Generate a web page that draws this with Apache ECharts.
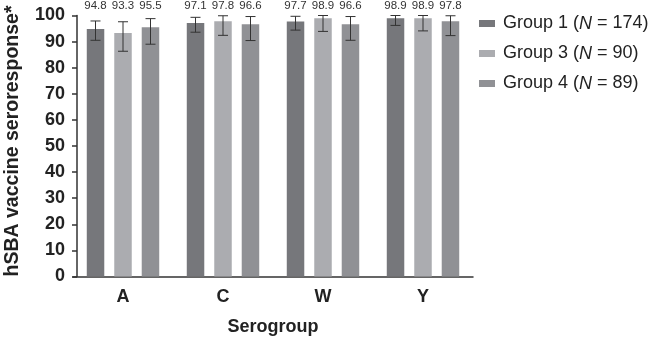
<!DOCTYPE html>
<html lang="en">
<head>
    <meta charset="utf-8" />
    <title>hSBA seroresponse</title>
    <style>
        html, body { margin: 0; width: 100%; height: 100%; background: #fff; }
        #main { width: 658px; height: 337px; }
    </style>
</head>
<body>
    <div id="main"></div>
    <script src="https://cdn.jsdelivr.net/npm/echarts@6/dist/echarts.min.js"></script>
    <script type="text/javascript">
        var serogroups = ['A', 'C', 'W', 'Y'];
        var groupNames = ['Group 1', 'Group 3', 'Group 4'];
        var groupN = [174, 90, 89];

        var group1 = [94.8, 97.1, 97.7, 98.9];
        var group3 = [93.3, 97.8, 98.9, 98.9];
        var group4 = [95.5, 96.6, 96.6, 97.8];

        // 95% CI, read from the whiskers
        var group1Low = [90.5, 93.6, 94.4, 96.2];
        var group1High = [97.9, 99.3, 99.7, 100];
        var group3Low = [86.3, 92.4, 93.9, 94.1];
        var group3High = [97.6, 99.9, 100, 100];
        var group4Low = [89.0, 90.4, 90.5, 92.3];
        var group4High = [98.8, 99.6, 99.6, 99.9];

        var yTicks = [0, 10, 20, 30, 40, 50, 60, 70, 80, 90, 100];

        var colors = ['#76777b', '#abacb0', '#909195'];
        var font = 'Liberation Sans, Arial, Helvetica, sans-serif';

        var values = [group1, group3, group4];
        var lows = [group1Low, group3Low, group4Low];
        var highs = [group1High, group3High, group4High];

        var chart = echarts.init(document.getElementById('main'));

        // error bars and value labels sit on the bar centres
        function errorSeries(k) {
            var data = serogroups.map(function (s, i) {
                return [i, lows[k][i], highs[k][i], values[k][i]];
            });
            return {
                type: 'custom',
                name: groupNames[k] + '_err',
                silent: true,
                z: 5,
                clip: false,
                data: data,
                renderItem: function (params, api) {
                    var band = api.size([1, 0])[0];
                    var off = (k - 1) * 0.275 * band;
                    var lo = api.coord([api.value(0), api.value(1)]);
                    var hi = api.coord([api.value(0), api.value(2)]);
                    var top = api.coord([api.value(0), 100]);
                    var x = lo[0] + off;
                    var cap = 5;
                    var st = { stroke: '#333', lineWidth: 1 };
                    return {
                        type: 'group',
                        children: [
                            { type: 'line', shape: { x1: x, y1: lo[1], x2: x, y2: hi[1] }, style: st },
                            { type: 'line', shape: { x1: x - cap, y1: lo[1], x2: x + cap, y2: lo[1] }, style: st },
                            { type: 'line', shape: { x1: x - cap, y1: hi[1], x2: x + cap, y2: hi[1] }, style: st },
                            {
                                type: 'text',
                                style: {
                                    x: x, y: top[1] - 9.5,
                                    text: api.value(3).toFixed(1),
                                    fill: '#333',
                                    font: '11.5px ' + font,
                                    align: 'center',
                                    verticalAlign: 'middle'
                                }
                            }
                        ]
                    };
                }
            };
        }

        var series = [];
        for (var k = 0; k < 3; k++) {
            series.push({
                type: 'bar',
                name: groupNames[k],
                data: values[k],
                barWidth: 17.5,
                barGap: '57%',
                itemStyle: { color: colors[k] }
            });
        }
        for (var k = 0; k < 3; k++) {
            series.push(errorSeries(k));
        }

        var option = {
            animation: false,
            textStyle: { fontFamily: font },
            grid: { left: 73, right: 185, top: 15.5, bottom: 60.5, outerBoundsMode: 'none', containLabel: false },
            legend: {
                data: groupNames,
                orient: 'vertical',
                left: 474,
                top: 8,
                itemWidth: 16,
                itemHeight: 7,
                itemGap: 9,
                icon: 'rect',
                formatter: function (name) {
                    var i = groupNames.indexOf(name);
                    return name + ' ({i|N} = ' + groupN[i] + ')';
                },
                textStyle: {
                    fontSize: 18,
                    color: '#222',
                    lineHeight: 21,
                    padding: [0, 0, 0, 3],
                    rich: {
                        i: { fontSize: 18, fontStyle: 'italic', color: '#222' }
                    }
                }
            },
            xAxis: {
                type: 'category',
                data: serogroups,
                name: 'Serogroup',
                nameLocation: 'middle',
                nameGap: 42,
                nameTextStyle: { fontSize: 18, fontWeight: 'bold', color: '#222' },
                axisLine: { lineStyle: { color: '#333', width: 1.5 } },
                axisTick: { alignWithLabel: true, length: 5, lineStyle: { color: '#333', width: 1.5 } },
                axisLabel: { fontSize: 18, fontWeight: 'bold', color: '#222', margin: 12 }
            },
            yAxis: {
                type: 'value',
                min: 0,
                max: 100,
                interval: 10,
                offset: -4,
                name: 'hSBA vaccine seroresponse*',
                nameLocation: 'middle',
                nameGap: 54,
                nameTextStyle: { fontSize: 19.5, fontWeight: 'bold', color: '#222', padding: [0, 0, 0, 10] },
                axisLine: { show: true, lineStyle: { color: '#333', width: 1.5 } },
                axisTick: { show: true, length: 5, lineStyle: { color: '#333', width: 1.5 } },
                splitLine: { show: false },
                axisLabel: {
                    fontSize: 18, fontWeight: 'bold', color: '#222', margin: 12,
                    formatter: function (v) { return yTicks.indexOf(v) >= 0 ? String(v) : ''; }
                }
            },
            series: series
        };

        chart.setOption(option);
    </script>
</body>
</html>
